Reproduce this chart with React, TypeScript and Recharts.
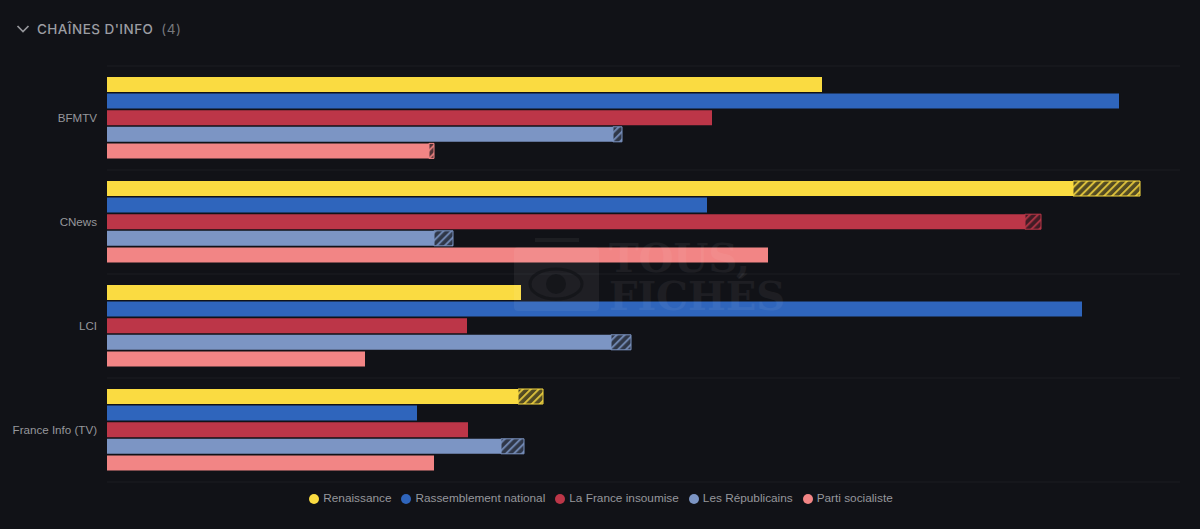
import { Bar, BarChart, CartesianGrid, Legend, XAxis, YAxis } from 'recharts';

const channels = ['BFMTV', 'CNews', 'LCI', 'France Info (TV)'];

const parties = ['Renaissance', 'Rassemblement national', 'La France insoumise', 'Les Républicains', 'Parti socialiste'];
const colors = ['#FADB41', '#2F65BC', '#BC3648', '#7C95C4', '#F28585'];

// values, the axis is not shown so the unit is arbitrary
const renaissance = [715, 966, 414, 411];
const renaissanceHatched = [0, 67, 0, 25];
const rassemblement = [1012, 600, 975, 310];
const rassemblementHatched = [0, 0, 0, 0];
const insoumise = [605, 918, 360, 361];
const insoumiseHatched = [0, 16, 0, 0];
const republicains = [506, 327, 504, 394];
const republicainsHatched = [9, 19, 20, 23];
const socialiste = [322, 661, 258, 327];
const socialisteHatched = [5, 0, 0, 0];

const solid = [renaissance, rassemblement, insoumise, republicains, socialiste];
const hatched = [renaissanceHatched, rassemblementHatched, insoumiseHatched, republicainsHatched, socialisteHatched];

const data = channels.map((channel, i) => {
  const row: Record<string, string | number> = { channel };
  parties.forEach((party, p) => {
    row[party] = solid[p][i];
    row[`${party} (hatched)`] = hatched[p][i];
  });
  return row;
});

const textColor = '#96979C';

function Watermark() {
  return (
    <svg width={1200} height={529} style={{ position: 'absolute', left: 0, top: 0, pointerEvents: 'none' }}>
      <rect x={514} y={247} width={85} height={64} rx={4} fill="#ffffff" opacity={0.06} />
      <rect x={535} y={238} width={44} height={4} fill="#ffffff" opacity={0.05} />
      <ellipse cx={556} cy={284} rx={26} ry={15} fill="none" stroke="#111217" strokeWidth={3} opacity={0.7} />
      <circle cx={556} cy={284} r={10} fill="#111217" opacity={0.7} />
      <text x={609} y={272} fontFamily="'DejaVu Serif', serif" fontWeight={700} fontSize={40} fill="#ffffff" opacity={0.05}>
        TOUS,
      </text>
      <text x={609} y={310} fontFamily="'DejaVu Serif', serif" fontWeight={700} fontSize={40} fill="#ffffff" opacity={0.05}>
        FICHÉS
      </text>
    </svg>
  );
}

function ChannelTick({ x, y, payload }: any) {
  return (
    <text x={x} y={y} dy={4} textAnchor="end" fill={textColor} fontSize={11.6}>
      {payload.value}
    </text>
  );
}

export default function App() {
  return (
    <div style={{ position: 'fixed', left: 0, top: 0, width: 1200, height: 529, background: '#111217', fontFamily: "'Liberation Sans', sans-serif", overflow: 'hidden' }}>
      <svg width={14} height={10} style={{ position: 'absolute', left: 16, top: 24 }}>
        <path d="M1.5 2 L7 7.5 L12.5 2" fill="none" stroke={textColor} strokeWidth={1.7} />
      </svg>
      <div style={{ position: 'absolute', left: 37, top: 21, fontFamily: 'Inter, sans-serif', fontSize: 13.5, fontWeight: 500, letterSpacing: 0.45, color: '#9C9DA3', whiteSpace: 'pre' }}>
        CHAÎNES D'INFO
        <span style={{ color: '#77787D', marginLeft: 8, fontWeight: 400 }}>(4)</span>
      </div>
      <BarChart
        width={1200}
        height={529}
        data={data}
        layout="vertical"
        barSize={15}
        barGap={1.6}
        margin={{ top: 66, right: 20, bottom: 0, left: 0 }}
        style={{ position: 'absolute', left: 0, top: 0 }}
      >
        <defs>
          {colors.map((color, i) => (
            <pattern key={color} id={`hatch-${i}`} width={5.6} height={5.6} patternUnits="userSpaceOnUse" patternTransform="rotate(45)">
              <rect width={5.6} height={5.6} fill={color} opacity={0.28} />
              <rect width={2} height={5.6} fill={color} opacity={0.8} />
            </pattern>
          ))}
        </defs>
        <CartesianGrid
          vertical={false}
          stroke="#ffffff"
          strokeOpacity={0.05}
          horizontalCoordinatesGenerator={({ offset }: any) =>
            [0, 1, 2, 3, 4].map((n) => offset.top + (n * offset.height) / channels.length)
          }
        />
        <XAxis type="number" hide domain={[0, 1073]} />
        <YAxis
          type="category"
          dataKey="channel"
          width={107}
          axisLine={false}
          tickLine={false}
          tickSize={0}
          tickMargin={10}
          tick={<ChannelTick />}
        />
        <Legend
          verticalAlign="bottom"
          align="center"
          height={47}
          iconType="circle"
          iconSize={10}
          itemSorter={null}
          wrapperStyle={{ fontSize: 11.8, transform: 'translate(16px, 9px)' }}
          formatter={(value: string) => <span style={{ color: textColor }}>{value}</span>}
        />
        {parties.map((party, i) => [
          <Bar key={party} dataKey={party} stackId={party} fill={colors[i]} isAnimationActive={false} />,
          <Bar
            key={`${party}-hatched`}
            dataKey={`${party} (hatched)`}
            stackId={party}
            fill={`url(#hatch-${i})`}
            stroke={colors[i]}
            strokeWidth={1}
            legendType="none"
            isAnimationActive={false}
          />,
        ])}
      </BarChart>
      <Watermark />
    </div>
  );
}
